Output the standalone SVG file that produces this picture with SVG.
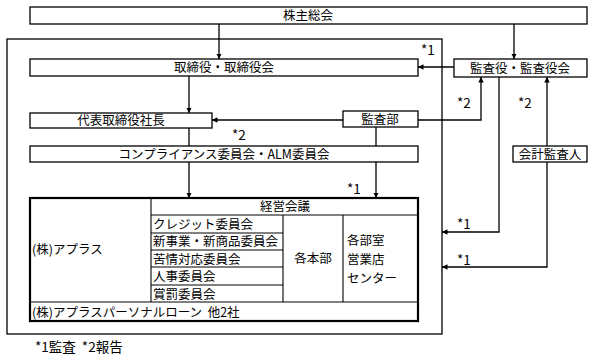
<svg xmlns="http://www.w3.org/2000/svg" width="594" height="359" viewBox="0 0 594 359">
<style>
text{font-family:"Noto Sans CJK JP","Noto Sans",sans-serif;font-size:12.5px;fill:#000}
.c{text-anchor:middle}
.lb{font-size:13.5px}
.box{fill:#fff;stroke:#000;stroke-width:1.3}
.ln{fill:none;stroke:#000;stroke-width:1.3}
.ar{fill:none;stroke:#000;stroke-width:1.3;marker-end:url(#ah)}
.thick{fill:none;stroke:#000;stroke-width:2.2}
.cell{fill:none;stroke:#000;stroke-width:1.1}
</style>
<defs>
<marker id="ah" viewBox="0 0 10 10" refX="10" refY="5" markerWidth="5.5" markerHeight="5.5" markerUnits="userSpaceOnUse" orient="auto">
<path d="M0,0 L10,5 L0,10 z" fill="#000"/>
</marker>
</defs>
<rect x="0" y="0" width="594" height="359" fill="#fff"/>
<g id="outer"><rect x="7" y="39" width="435" height="295" class="ln"/></g>
<g id="connectors">
<line x1="219" y1="24" x2="219" y2="59" class="ar"/>
<line x1="514" y1="24" x2="514" y2="59" class="ar"/>
<line x1="454" y1="67" x2="418" y2="67" class="ar"/>
<line x1="189" y1="76" x2="189" y2="113" class="ar"/>
<line x1="343" y1="120" x2="212" y2="120" class="ar"/>
<polyline points="418,120 481,120 481,77" class="ar"/>
<line x1="547" y1="146" x2="547" y2="77" class="ar"/>
<polyline points="499,77 499,232 442,232" class="ar"/>
<polyline points="547,162 547,267 442,267" class="ar"/>
<line x1="189" y1="128" x2="189" y2="146" class="ln"/>
<line x1="376" y1="127" x2="376" y2="146" class="ln"/>
<line x1="189" y1="162" x2="189" y2="198" class="ar"/>
<line x1="376" y1="162" x2="376" y2="198" class="ar"/>
<text x="421" y="55" class="lb">*1</text>
<text x="457" y="108" class="lb">*2</text>
<text x="518" y="108" class="lb">*2</text>
<text x="232" y="139.5" class="lb">*2</text>
<text x="347" y="194" class="lb">*1</text>
<text x="457" y="229" class="lb">*1</text>
<text x="457" y="265" class="lb">*1</text>
</g>
<g id="kabunushi"><rect x="30" y="7" width="557" height="17" class="box"/><text x="308" y="20" class="c">株主総会</text></g>
<g id="torishimariyaku"><rect x="30" y="59" width="388" height="17" class="box"/><text x="224" y="72" class="c">取締役・取締役会</text></g>
<g id="kansayaku"><rect x="454" y="59" width="133" height="18" class="box"/><text x="520" y="72.5" class="c">監査役・監査役会</text></g>
<g id="daihyo"><rect x="30" y="113" width="182" height="15" class="box"/><text x="121" y="125" class="c">代表取締役社長</text></g>
<g id="kansabu"><rect x="343" y="111" width="75" height="16" class="box"/><text x="380" y="123.5" class="c">監査部</text></g>
<g id="compliance"><rect x="30" y="146" width="388" height="16" class="box"/><text x="224" y="158.5" class="c">コンプライアンス委員会・ALM委員会</text></g>
<g id="kaikei"><rect x="513" y="146" width="74" height="16" class="box"/><text x="550" y="158.5" class="c">会計監査人</text></g>
<g id="keiei">
<rect x="30" y="198" width="388" height="123" fill="#fff"/>
<line x1="151" y1="215" x2="418" y2="215" class="cell"/>
<line x1="151" y1="198" x2="151" y2="302" class="cell"/>
<line x1="283" y1="215" x2="283" y2="302" class="cell"/>
<line x1="343" y1="215" x2="343" y2="302" class="cell"/>
<line x1="151" y1="233" x2="283" y2="233" class="cell"/>
<line x1="151" y1="250" x2="283" y2="250" class="cell"/>
<line x1="151" y1="267" x2="283" y2="267" class="cell"/>
<line x1="151" y1="285" x2="283" y2="285" class="cell"/>
<line x1="30" y1="302" x2="418" y2="302" class="cell"/>
<rect x="30" y="198" width="388" height="123" class="thick"/>
<text x="285" y="211" class="c">経営会議</text>
<text x="32" y="254">(株)アプラス</text>
<text x="153" y="228.5">クレジット委員会</text>
<text x="153" y="246">新事業・新商品委員会</text>
<text x="153" y="263.5">苦情対応委員会</text>
<text x="153" y="281">人事委員会</text>
<text x="153" y="298.5">賞罰委員会</text>
<text x="313" y="263" class="c">各本部</text>
<text x="347" y="245">各部室</text>
<text x="347" y="264">営業店</text>
<text x="347" y="283">センター</text>
<text x="32" y="316.5">(株)アプラスパーソナルローン&#160;&#160;他2社</text>
</g>
<g id="footnote"><text x="35" y="352" class="lb">*1監査&#160;&#160;*2報告</text></g>
</svg>
